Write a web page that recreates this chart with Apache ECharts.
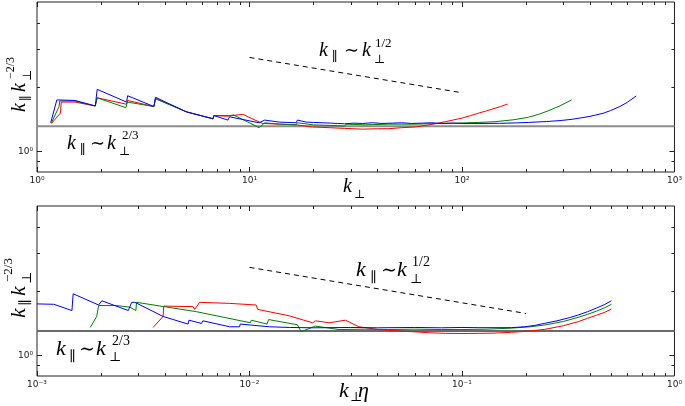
<!DOCTYPE html>
<html>
<head>
<meta charset="utf-8">
<script src="https://cdn.jsdelivr.net/npm/echarts@6/dist/echarts.min.js"></script>
<style>
html,body{margin:0;padding:0;background:#fff;}
#chart{width:685px;height:406px;}
</style>
</head>
<body>
<div id="chart"></div>
<script>
// ---------------- DATA ----------------
// Top panel: x = k_perp, y = k_par * k_perp^(-2/3)
const topXTicks = [1, 10, 100, 1000];
const topYTicks = [1];
const redTop = [[1.17,1.35],[1.29,1.51],[1.30,1.70],[1.51,1.70],[1.88,1.63],[1.92,1.78],[2.64,1.66],[2.67,1.73],[3.55,1.62],[3.61,1.77],[5.05,1.53],[6.73,1.42],[6.80,1.47],[7.88,1.46],[9.3,1.49],[11.5,1.35],[13.9,1.34],[16.6,1.33],[19.8,1.30],[23.7,1.29],[28,1.28],[34,1.27],[40,1.275],[45.3,1.276],[52,1.29],[60.5,1.30],[70,1.33],[83.6,1.376],[100,1.43],[110,1.47],[120,1.51],[130,1.545],[140,1.58],[152,1.62],[164,1.665]];
const greenTop = [[1.17,1.36],[1.27,1.62],[1.28,1.72],[1.51,1.72],[1.88,1.63],[1.92,1.78],[2.62,1.60],[2.66,1.70],[3.55,1.62],[3.61,1.76],[5.05,1.53],[6.73,1.42],[6.80,1.47],[8.06,1.47],[8.42,1.48],[11.1,1.29],[11.8,1.36],[13.8,1.34],[16.6,1.33],[16.8,1.36],[20,1.33],[25,1.32],[28,1.31],[28.5,1.34],[35,1.33],[45,1.34],[60,1.34],[80,1.35],[100,1.357],[120,1.365],[143,1.376],[175,1.405],[205,1.443],[230,1.49],[260,1.56],[290,1.635],[328,1.74]];
const blueTop = [[1.16,1.36],[1.24,1.74],[1.51,1.73],[1.88,1.63],[1.92,1.95],[2.64,1.70],[2.67,1.82],[3.55,1.62],[3.61,1.79],[5.05,1.53],[6.73,1.42],[6.80,1.47],[7.91,1.40],[8.06,1.45],[11.1,1.36],[11.8,1.40],[13.8,1.37],[16.6,1.36],[16.8,1.40],[18.5,1.37],[20,1.365],[22,1.36],[24,1.355],[26,1.35],[28,1.345],[28.4,1.365],[31,1.355],[34,1.35],[38,1.36],[42,1.35],[47,1.355],[52,1.36],[58,1.35],[65,1.355],[72,1.36],[80,1.35],[90,1.355],[100,1.35],[120,1.35],[150,1.352],[180,1.358],[205,1.365],[250,1.378],[293,1.394],[330,1.412],[400,1.457],[462,1.507],[500,1.551],[553,1.62],[600,1.696],[661,1.815]];
const dashTop = [[10,2.75],[100,1.88]];
const levelTop = 1.31;

// Bottom panel: x = k_perp * eta
const botXTicks = [0.001, 0.01, 0.1, 1];
const botYTicks = [1];
const redBot = [[0.00352,1.35],[0.00392,1.52],[0.00395,1.70],[0.00542,1.69],[0.00552,1.64],[0.00583,1.77],[0.00806,1.75],[0.01075,1.72],[0.01094,1.64],[0.0154,1.53],[0.0198,1.42],[0.0205,1.45],[0.0237,1.42],[0.0283,1.46],[0.0327,1.36],[0.0405,1.32],[0.05,1.30],[0.0583,1.29],[0.07,1.275],[0.0836,1.267],[0.1,1.265],[0.12,1.267],[0.14,1.27],[0.171,1.281],[0.21,1.30],[0.2455,1.323],[0.3,1.375],[0.3525,1.437],[0.39,1.49],[0.43,1.54],[0.47,1.59],[0.505,1.647]];
const greenBot = [[0.00178,1.35],[0.00191,1.52],[0.00195,1.71],[0.00237,1.71],[0.00274,1.68],[0.00292,1.62],[0.00294,1.77],[0.00563,1.60],[0.0101,1.42],[0.0102,1.46],[0.0121,1.40],[0.0123,1.47],[0.0168,1.39],[0.0175,1.29],[0.0204,1.37],[0.0264,1.32],[0.035,1.325],[0.045,1.32],[0.06,1.325],[0.08,1.32],[0.1,1.32],[0.13,1.325],[0.17,1.34],[0.21,1.36],[0.2455,1.387],[0.3,1.44],[0.3525,1.506],[0.39,1.555],[0.43,1.61],[0.47,1.67],[0.505,1.733]];
const blueBot = [[0.001,1.74],[0.0012,1.733],[0.00146,1.62],[0.00148,1.94],[0.00195,1.72],[0.00202,1.80],[0.00205,1.80],[0.00269,1.62],[0.00279,1.77],[0.00289,1.77],[0.00392,1.52],[0.00514,1.40],[0.00519,1.46],[0.00594,1.41],[0.00604,1.45],[0.00806,1.36],[0.00898,1.36],[0.00905,1.40],[0.0124,1.36],[0.0154,1.35],[0.02,1.345],[0.03,1.35],[0.04,1.345],[0.06,1.35],[0.08,1.345],[0.1,1.35],[0.12,1.347],[0.1712,1.347],[0.197,1.36],[0.22,1.38],[0.2455,1.412],[0.28,1.45],[0.32,1.50],[0.3525,1.544],[0.39,1.60],[0.43,1.665],[0.47,1.73],[0.505,1.80]];
const dashBot = [[0.01,2.58],[0.2,1.57]];
const levelBot = 1.30;

const yMinorTicks = [0.9, 2, 3, 4];
const minorMult = [2,3,4,5,6,7,8,9];

// ---------------- HELPERS ----------------
const SUP = {'0':'\u2070','1':'\u00b9','2':'\u00b2','3':'\u00b3','-':'\u207b'};
function decLabel(v){
  const e = Math.round(Math.log10(v));
  if (Math.abs(Math.log10(v) - e) > 1e-6) return '';
  return '10' + String(e).split('').map(c => SUP[c]).join('');
}
function minors(decades){
  const out = [];
  for (let i = 0; i < decades.length - 1; i++) minorMult.forEach(m => out.push(decades[i]*m));
  return out;
}
function tickSeries(gi, vals, dir, len, other){
  return {
    type:'custom', xAxisIndex:gi, yAxisIndex:gi, silent:true, z:10, clip:false,
    data: vals.map(v => dir === 'x' ? [v, other] : [other, v]),
    renderItem: function(params, api){
      const cs = params.coordSys;
      const p = api.coord([api.value(0), api.value(1)]);
      const st = {stroke:'#222', lineWidth:1};
      if (dir === 'x'){
        const x = Math.round(p[0]) + 0.5;
        return {type:'group', children:[
          {type:'line', shape:{x1:x, y1:cs.y+cs.height, x2:x, y2:cs.y+cs.height-len}, style:st},
          {type:'line', shape:{x1:x, y1:cs.y, x2:x, y2:cs.y+len}, style:st}
        ]};
      } else {
        const y = Math.round(p[1]) + 0.5;
        return {type:'group', children:[
          {type:'line', shape:{x1:cs.x, y1:y, x2:cs.x+len, y2:y}, style:st},
          {type:'line', shape:{x1:cs.x+cs.width, y1:y, x2:cs.x+cs.width-len, y2:y}, style:st}
        ]};
      }
    }
  };
}
const MF = "'Liberation Serif','DejaVu Serif',serif";
const SF = "'DejaVu Serif','Liberation Serif',serif";
function txt(t, x, y, size, italic, fam){
  return {type:'text', x:x, y:y, silent:true, style:{text:t, font:(italic?'italic ':'') + size + 'px ' + (fam || MF), fill:'#000', align:'left', verticalAlign:'middle', textAlign:'left', textVerticalAlign:'middle'}};
}
function lineS(gi, data, color, z, dashed, w){
  return {type:'line', xAxisIndex:gi, yAxisIndex:gi, data:data, showSymbol:false, symbol:'none', silent:true, z:z,
    lineStyle:{color:color, width:w || 1, type: dashed ? [5,4] : 'solid'}};
}

// ---------------- CHART ----------------
const chart = echarts.init(document.getElementById('chart'), null, {renderer:'canvas'});
const grids = [
  {left:37, top:2, width:640, height:170, show:true, borderColor:'#222', borderWidth:1, backgroundColor:'transparent'},
  {left:37, top:206, width:640, height:170, show:true, borderColor:'#222', borderWidth:1, backgroundColor:'transparent'}
];
function xAx(gi, mn, mx){
  return {type:'log', logBase:10, gridIndex:gi, min:mn, max:mx, axisLine:{show:false}, axisTick:{show:false}, splitLine:{show:false},
    axisLabel:{formatter:decLabel, fontSize:9, color:'#222', margin:4, fontFamily:'DejaVu Sans', showMinLabel:true, showMaxLabel:true}};
}
function yAx(gi){
  return {type:'log', logBase:10, gridIndex:gi, min:0.8, max:5, axisLine:{show:false}, axisTick:{show:false}, splitLine:{show:false},
    axisLabel:{formatter:decLabel, fontSize:9, color:'#222', margin:4, fontFamily:'DejaVu Sans'}};
}

const series = [
  lineS(0, [[topXTicks[0], levelTop],[topXTicks[3], levelTop]], '#8c8c8c', 2, false, 2),
  lineS(0, dashTop, '#000', 3, true),
  lineS(0, redTop, '#ff0000', 4, false),
  lineS(0, greenTop, '#008000', 5, false),
  lineS(0, blueTop, '#0000ff', 6, false),
  lineS(1, [[botXTicks[0], levelBot],[botXTicks[3], levelBot]], '#6a6a6a', 2, false, 2),
  lineS(1, dashBot, '#000', 3, true),
  lineS(1, redBot, '#ff0000', 4, false),
  lineS(1, greenBot, '#008000', 5, false),
  lineS(1, blueBot, '#0000ff', 6, false),
  tickSeries(0, topXTicks, 'x', 5, 1),
  tickSeries(0, minors(topXTicks), 'x', 3, 1),
  tickSeries(0, topYTicks, 'y', 5, 1),
  tickSeries(0, yMinorTicks, 'y', 3, 1),
  tickSeries(1, botXTicks, 'x', 5, 1),
  tickSeries(1, minors(botXTicks), 'x', 3, 1),
  tickSeries(1, botYTicks, 'y', 5, 0.001),
  tickSeries(1, yMinorTicks, 'y', 3, 0.001)
];

const graphic = [
  // top annotations
  {type:'group', children:[
    txt('k',319,50.5,20,true), txt('\u2225',332,58,13,false,SF), txt('\u223c',344,51,18,false,SF),
    txt('k',362,50.5,20,true), txt('\u22a5',374,60,12,false,SF), txt('1/2',375,44,13,false)
  ]},
  {type:'group', children:[
    txt('k',67,143.5,20,true), txt('\u2225',80,151,13,false,SF), txt('\u223c',90,144,18,false,SF),
    txt('k',107,143.5,20,true), txt('\u22a5',119,152,12,false,SF), txt('2/3',122,136,13,false)
  ]},
  // top x title
  {type:'group', children:[ txt('k',343,186.5,20,true), txt('\u22a5',354,195,12,false,SF) ]},
  // top y title
  {type:'group', x:20, y:84, rotation:Math.PI/2, children:[
    txt('k',-28,0,20,true), txt('\u2225',-17,7,13,false,SF), txt('k',-8,0,20,true),
    txt('\u22a5',3,8,12,false,SF), txt('\u22122/3',5,-9,12,false)
  ]},
  // bottom annotations
  {type:'group', children:[
    txt('k',356,270,22,true), txt('\u2225',370,278,14,false,SF), txt('\u223c',381,271,19,false,SF),
    txt('k',397,270,22,true), txt('\u22a5',410,280,13,false,SF), txt('1/2',412,262,14,false)
  ]},
  {type:'group', children:[
    txt('k',56,349.5,22,true), txt('\u2225',69,357,14,false,SF), txt('\u223c',79,350,19,false,SF),
    txt('k',96,349.5,22,true), txt('\u22a5',109,358,13,false,SF), txt('2/3',112,341,14,false)
  ]},
  // bottom x title
  {type:'group', children:[ txt('k',339,391,22,true), txt('\u22a5',350,398,13,false,SF), txt('\u03b7',358,391,22,true) ]},
  // bottom y title
  {type:'group', x:19, y:287, rotation:Math.PI/2, children:[
    txt('k',-31,0,22,true), txt('\u2225',-19,7,14,false,SF), txt('k',-9,0,22,true),
    txt('\u22a5',3,9,13,false,SF), txt('\u22122/3',5,-10,13,false)
  ]}
];

chart.setOption({
  animation:false,
  backgroundColor:'#fff',
  grid: grids,
  xAxis: [xAx(0, topXTicks[0], topXTicks[3]), xAx(1, botXTicks[0], botXTicks[3])],
  yAxis: [yAx(0), yAx(1)],
  series: series,
  graphic: graphic
});
</script>
</body>
</html>
